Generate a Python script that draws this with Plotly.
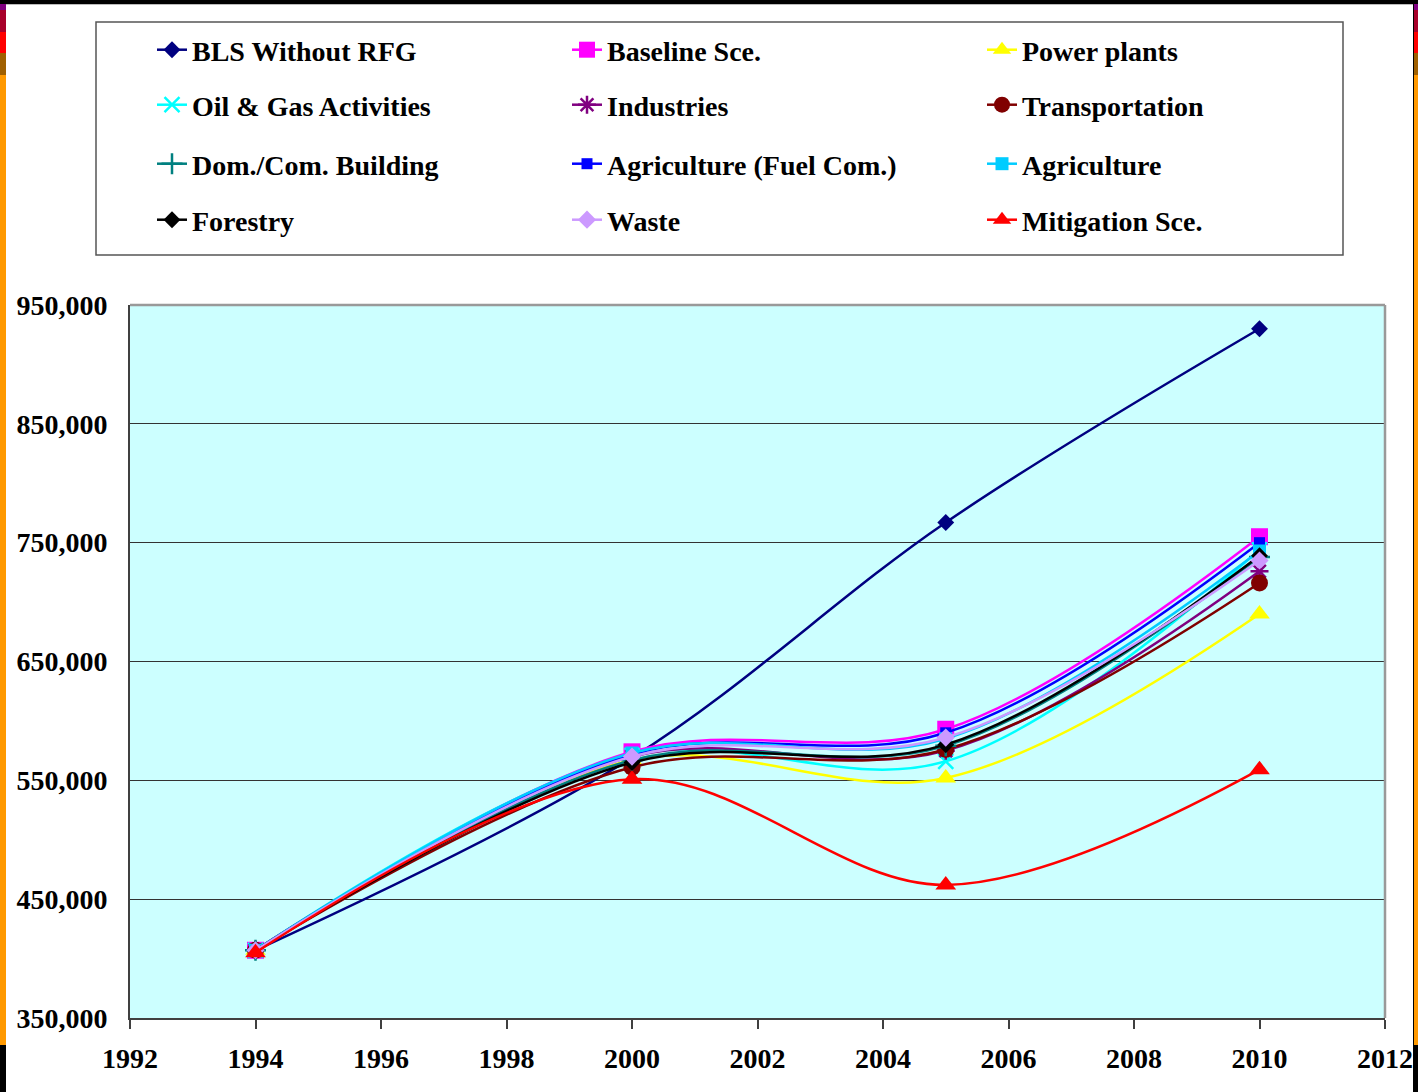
import plotly.graph_objects as go

years = [1994, 2000, 2005, 2010]

series_names = [
    "BLS Without RFG", "Baseline Sce.", "Power plants",
    "Oil & Gas Activities", "Industries", "Transportation",
    "Dom./Com. Building", "Agriculture (Fuel Com.)", "Agriculture",
    "Forestry", "Waste", "Mitigation Sce.",
]

bls_without_rfg = [407000, 569000, 767000, 930000]
baseline = [407000, 574000, 593000, 755000]
power_plants = [407000, 567000, 552000, 690000]
oil_gas = [407000, 571000, 566000, 744000]
industries = [407000, 570000, 575000, 726000]
transportation = [407000, 561000, 576000, 716000]
dom_com_building = [407000, 567000, 579000, 738000]
agriculture_fuel = [407000, 572000, 590000, 750000]
agriculture = [407000, 573000, 585000, 743000]
forestry = [407000, 565000, 580000, 739000]
waste = [407000, 570000, 586000, 735000]
mitigation = [405000, 551000, 462000, 559000]

values = [bls_without_rfg, baseline, power_plants, oil_gas, industries,
          transportation, dom_com_building, agriculture_fuel, agriculture,
          forestry, waste, mitigation]

colors = ["#000080", "#FF00FF", "#FFFF00", "#00FFFF", "#800080", "#800000",
          "#008080", "#0000FF", "#00CCFF", "#000000", "#CC99FF", "#FF0000"]
symbols = ["diamond", "square", "triangle-up", "x-thin", "asterisk", "circle",
           "cross-thin", "square", "square", "diamond", "diamond", "triangle-up"]
sizes = [13, 17, 18, 15, 15, 17, 15, 11, 13, 13, 14, 18]

y_tick_vals = [350000, 450000, 550000, 650000, 750000, 850000, 950000]
x_tick_vals = [1992, 1994, 1996, 1998, 2000, 2002, 2004, 2006, 2008, 2010, 2012]

W, H = 1418, 1092
FONT = "Liberation Serif"

fig = go.Figure()
legend_ids = ["legend", "legend2", "legend3", "legend4"]
for i, (name, vals) in enumerate(zip(series_names, values)):
    line_sym = symbols[i] in ("x-thin", "asterisk", "cross-thin")
    fig.add_trace(go.Scatter(
        x=years, y=vals, name=name, mode="lines+markers",
        line=dict(color=colors[i], width=2.5, shape="spline", smoothing=1),
        marker=dict(symbol=symbols[i], size=sizes[i], color=colors[i],
                    line=dict(color=colors[i], width=2.5 if line_sym else 0)),
        legend=legend_ids[i // 3],
    ))

row_centers = [50, 105, 164, 220]
legend_font = dict(family=FONT, size=28, color="black", weight="bold")
layout_legends = {}
for r, lid in enumerate(legend_ids):
    layout_legends[lid] = dict(
        orientation="h", xref="container", yref="container",
        x=152 / W, y=1 - row_centers[r] / H, xanchor="left", yanchor="middle",
        entrywidth=370, font=legend_font, bgcolor="rgba(0,0,0,0)",
        borderwidth=0, traceorder="normal",
    )

shapes = []
# legend frame
shapes.append(dict(type="rect", xref="paper", yref="paper",
                   x0=(96 - 130) / 1255, x1=(1343 - 130) / 1255,
                   y0=(1018 - 22) / 713, y1=(1018 - 255) / 713,
                   line=dict(color="#555555", width=1.5), layer="above"))
# plot frame top/right
shapes.append(dict(type="line", xref="paper", yref="paper", x0=0, x1=1, y0=1, y1=1,
                   line=dict(color="#999999", width=2.5)))
shapes.append(dict(type="line", xref="paper", yref="paper", x0=1, x1=1, y0=0, y1=1,
                   line=dict(color="#999999", width=2.5)))

# window edge stripes (from screenshot)
def px_rect(x0, x1, y0, y1, color):
    return dict(type="rect", xref="paper", yref="paper",
                x0=(x0 - 130) / 1255, x1=(x1 - 130) / 1255,
                y0=(1018 - y0) / 713, y1=(1018 - y1) / 713,
                fillcolor=color, line=dict(width=0), layer="above")

stripes = [(0, 4, "#000000"), (4, 10, "#800080"), (10, 32, "#A8002A"),
           (32, 53, "#FF0000"), (53, 75, "#A06000"), (75, 1045, "#FF9900"),
           (1045, 1092, "#000000")]
for y0, y1, c in stripes:
    shapes.append(px_rect(0, 6, y0, y1, c))
    shapes.append(px_rect(1414, 1418, y0, y1, c))
shapes.append(px_rect(1413, 1414, 0, 1092, "#000000"))
shapes.append(px_rect(0, 1418, 0, 4, "#000000"))
shapes.append(px_rect(6, 1413, 4, 5, "#BBBBBB"))

fig.update_layout(
    width=W, height=H,
    margin=dict(l=130, r=33, t=305, b=74, autoexpand=False),
    paper_bgcolor="white", plot_bgcolor="#CCFFFF",
    font=dict(family=FONT, size=28, color="black", weight="bold"),
    shapes=shapes,
    **layout_legends,
)
fig.update_xaxes(
    range=[1992, 2012], tickvals=x_tick_vals, ticktext=[str(v) for v in x_tick_vals],
    showgrid=False, zeroline=False, showline=True, linecolor="#404040", linewidth=2,
    ticks="outside", ticklen=9, tickwidth=1.5, tickcolor="#404040",
    tickfont=dict(family=FONT, size=28, color="black", weight="bold"),
    ticklabelstandoff=5,
)
fig.update_yaxes(
    range=[350000, 950000], tickvals=y_tick_vals,
    tickformat=",", showgrid=True, gridcolor="#333333", gridwidth=1,
    zeroline=False, showline=True, linecolor="#404040", linewidth=2,
    ticks="", tickfont=dict(family=FONT, size=28, color="black", weight="bold"),
    ticklabelstandoff=15,
)

fig.write_html(
    "out.html",
    config={"displayModeBar": False},
    post_script="document.body.style.margin='0';document.body.style.overflow='hidden';",
)
